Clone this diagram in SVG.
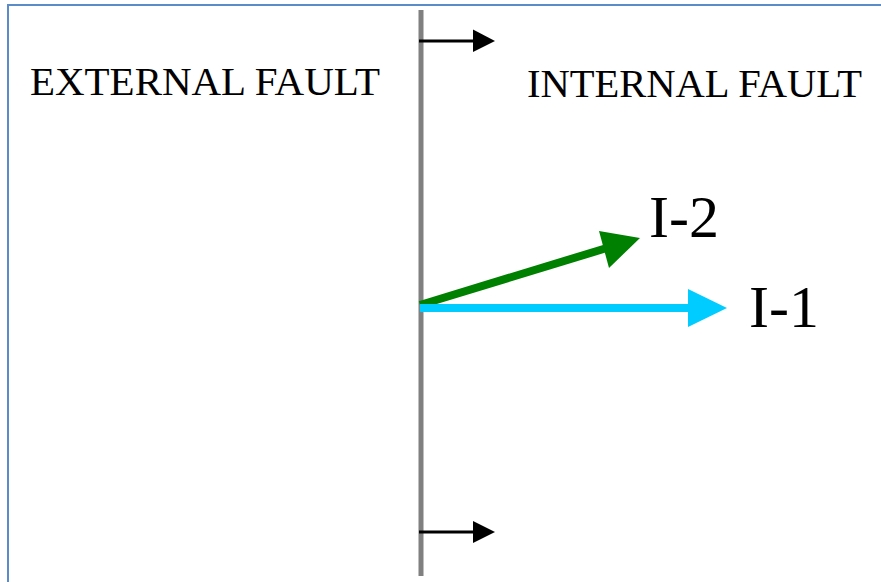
<svg xmlns="http://www.w3.org/2000/svg" width="881" height="582" viewBox="0 0 881 582">
<style>
.lbl{font-family:"Liberation Serif","Times New Roman",serif;fill:#000}
.t40{font-size:41px}
.t60{font-size:60px}
</style>
<rect x="0" y="0" width="881" height="582" fill="#fff"/>
<g id="frame">
<path d="M8,582 L8,5 L881,5" fill="none" stroke="#5b8bc9" stroke-width="2"/>
</g>
<g id="boundary">
<line x1="421" y1="10" x2="421" y2="576" stroke="#808080" stroke-width="5"/>
</g>
<g id="labels">
<text class="lbl t40" x="30" y="95" textLength="350" lengthAdjust="spacingAndGlyphs">EXTERNAL FAULT</text>
<text class="lbl t40" x="527" y="97" textLength="335" lengthAdjust="spacingAndGlyphs">INTERNAL FAULT</text>
</g>
<g id="connectors">
<line x1="419" y1="41" x2="474" y2="41" stroke="#000" stroke-width="3"/>
<path d="M473,29.5 L495,41 L473,52 Z" fill="#000"/>
<line x1="419" y1="532" x2="474" y2="532" stroke="#000" stroke-width="3"/>
<path d="M473,521 L495,532 L473,543 Z" fill="#000"/>
<line x1="420" y1="305" x2="610" y2="247" stroke="#008000" stroke-width="8"/>
<path d="M599,231 L640,238 L609,268 Z" fill="#008000"/>
<line x1="420" y1="308" x2="692" y2="308" stroke="#00ccff" stroke-width="8"/>
<path d="M688,289 L727,308 L688,327 Z" fill="#00ccff"/>
</g>
<g id="I-2">
<text class="lbl t60" x="649" y="237">I-2</text>
</g>
<g id="I-1">
<text class="lbl t60" x="749" y="327">I-1</text>
</g>
</svg>
